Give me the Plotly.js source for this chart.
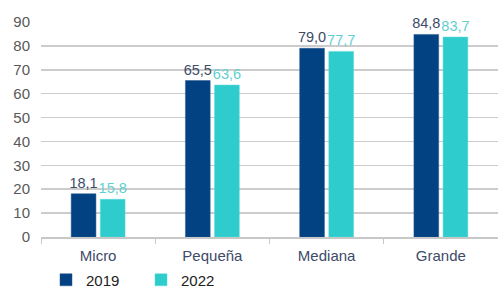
<!DOCTYPE html>
<html><head><meta charset="utf-8">
<script src="https://cdn.plot.ly/plotly-3.0.1.min.js"></script>
<style>body{margin:0;background:#fff}#c{width:498px;height:290px}</style>
</head><body><div id="c"></div>
<script>
const categories = ["Micro", "Pequeña", "Mediana", "Grande"];
const values2019 = [18.1, 65.5, 79.0, 84.8];
const values2022 = [15.8, 63.6, 77.7, 83.7];
const seriesNames = ["2019", "2022"];
const fmt = v => v.toFixed(1).replace('.', ',');
const font = "Liberation Sans, Arial, sans-serif";
const data = [
  {type:'bar', name:seriesNames[0], x:categories, y:values2019, marker:{color:'#024282', line:{color:'#2a5a90', width:0.5}},
   text:values2019.map(fmt), textposition:'outside', constraintext:'none', cliponaxis:false, textfont:{color:'#3d4a68', size:14.5, family:font}},
  {type:'bar', name:seriesNames[1], x:categories, y:values2022, marker:{color:'#2ecccc', line:{color:'#5ad8d8', width:0.5}},
   text:values2022.map(fmt), textposition:'outside', constraintext:'none', cliponaxis:false, textfont:{color:'#5fcfcf', size:14.5, family:font}}
];
const layout = {
  width:498, height:290,
  margin:{l:41, r:0, t:22, b:53, autoexpand:false},
  paper_bgcolor:'#fff', plot_bgcolor:'#fff',
  font:{family:font, size:14, color:'#595959'},
  bargap:0.49, bargroupgap:0.15,
  xaxis:{type:'category', showgrid:false, showline:true, linecolor:'#c8c8c8', linewidth:1.5,
         ticks:'outside', tickson:'boundaries', ticklen:5, tickcolor:'#c8c8c8',
         ticklabelstandoff:4, tickfont:{color:'#3d4a68', size:15}},
  yaxis:{range:[0,90], dtick:10, showgrid:true, gridcolor:'#cccccc', gridwidth:1.5,
         zeroline:false, showline:false, ticks:'', ticklabelstandoff:10,
         tickfont:{color:'#595959', size:15}},
  showlegend:true,
  legend:{orientation:'h', x:46/498, xref:'container', xanchor:'left', y:10/290, yref:'container', yanchor:'middle',
          entrywidth:50, entrywidthmode:'pixels', itemwidth:30,
          font:{color:'#222', size:15}, traceorder:'normal'}
};
Plotly.newPlot('c', data, layout, {displayModeBar:false, staticPlot:true});
</script></body></html>
